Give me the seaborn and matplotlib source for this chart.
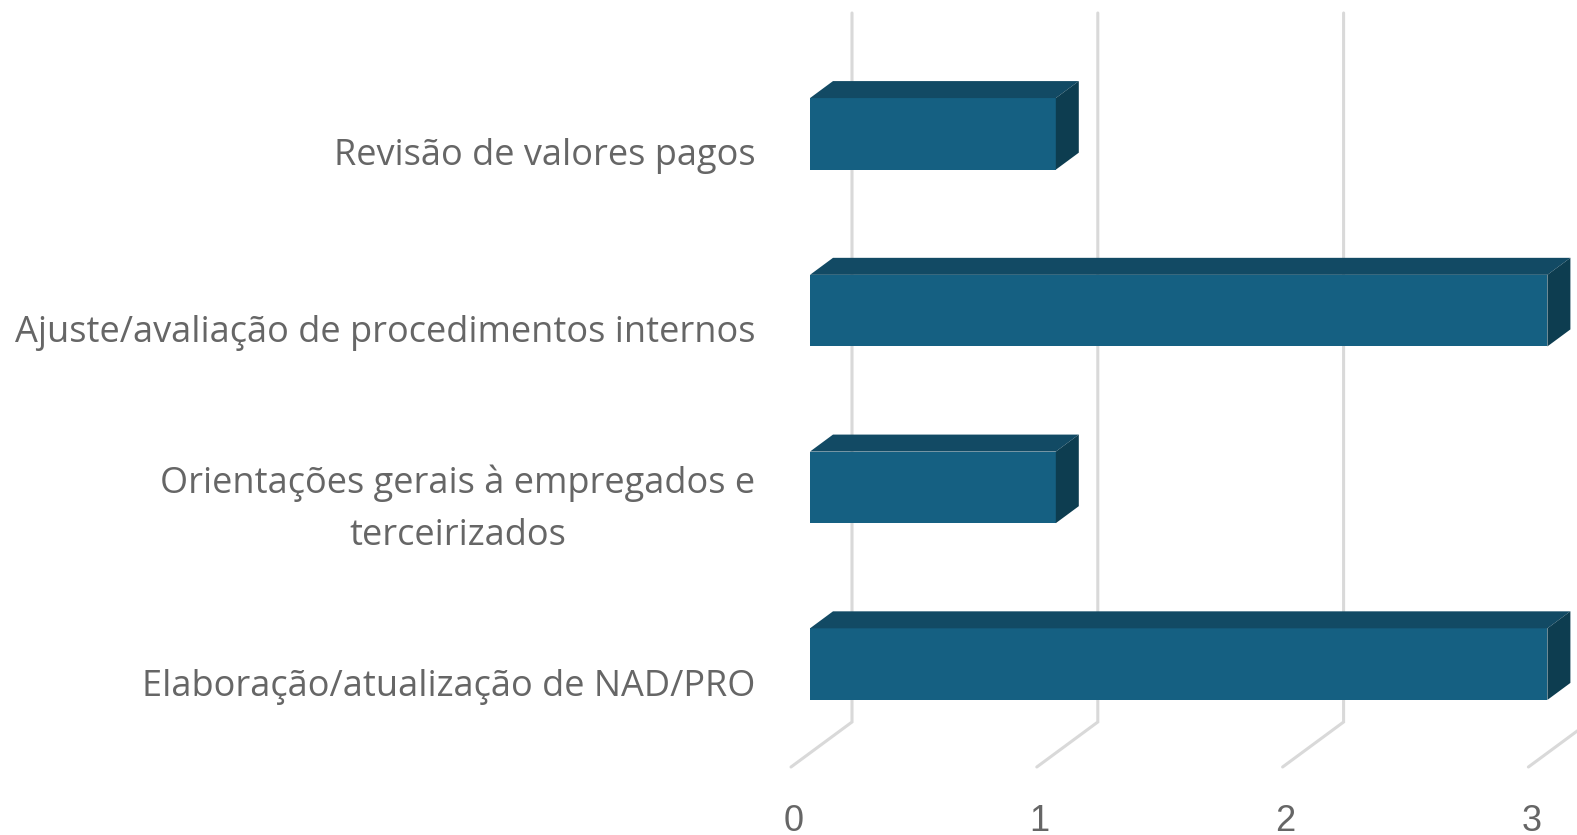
import matplotlib
matplotlib.use('Agg')
import matplotlib.pyplot as plt
import matplotlib.transforms as mtrans
from matplotlib.patches import Polygon
import pandas as pd
import seaborn as sns

categories = ['Revisão de valores pagos',
              'Ajuste/avaliação de procedimentos internos',
              'Orientações gerais à empregados e\nterceirizados',
              'Elaboração/atualização de NAD/PRO']
values = [1, 3, 1, 3]
x_ticks = [0, 1, 2, 3]

W, H = 1577, 835
FRONT = '#156082'
TOP = '#124A64'
SIDE = '#0D3D50'
GRID = '#D9D9D9'
TEXT = '#666666'

sns.set_theme(style='white')
plt.rcParams['font.family'] = ['Open Sans', 'DejaVu Sans']

fig = plt.figure(figsize=(W / 100, H / 100), dpi=100)
left, right, top, bottom = 810, W, 45.5, 752.5
ax = fig.add_axes([left / W, 1 - bottom / H, (right - left) / W, (bottom - top) / H])

df = pd.DataFrame({'categoria': categories, 'valor': values})
sns.barplot(data=df, x='valor', y='categoria', color=FRONT, saturation=1,
            width=0.405, orient='h', ax=ax, zorder=3, linewidth=0)
ax.set_xlim(0, (right - left) / 245.8)
ax.set_ylim(3.5, -0.5)
ax.set_xlabel('')
ax.set_ylabel('')
sns.despine(ax=ax, left=True, bottom=True, top=True, right=True)

# back wall and floor lines, offset in pixels from the tick position
for v in x_ticks:
    x0 = ax.transData.transform((v, 0))[0]
    ax.add_line(plt.Line2D([x0 - 19, x0 + 42, x0 + 42], [H - 767, H - 722, H - 13],
                           transform=mtrans.IdentityTransform(), color=GRID, lw=2.2,
                           zorder=1, clip_on=False, solid_joinstyle='miter'))

# fake 3d faces built from the real bars
dx, dy = 23, 17
for bar in list(ax.patches):
    (x0, y0), (x1, y1) = ax.transData.transform(bar.get_bbox().get_points())
    ylo, yhi = min(y0, y1), max(y0, y1)
    ax.add_patch(Polygon([(x0, yhi), (x0 + dx, yhi + dy), (x1 + dx, yhi + dy), (x1, yhi)],
                         transform=mtrans.IdentityTransform(), fc=TOP, ec='none',
                         zorder=3, clip_on=False))
    ax.add_patch(Polygon([(x1, yhi), (x1 + dx, yhi + dy), (x1 + dx, ylo + dy), (x1, ylo)],
                         transform=mtrans.IdentityTransform(), fc=SIDE, ec='none',
                         zorder=3, clip_on=False))

ax.set_xticks(x_ticks)
ax.set_xticklabels([str(v) for v in x_ticks], family='Liberation Sans')
ax.tick_params(axis='x', length=0, pad=37, labelsize=26, labelcolor=TEXT)
ax.tick_params(axis='y', length=0, pad=39.5, labelsize=26, labelcolor=TEXT)
for lab in ax.get_xticklabels():
    lab.set_transform(lab.get_transform() + mtrans.Affine2D().translate(-16, 0))
for lab in ax.get_yticklabels():
    shift = -9 if '\n' in lab.get_text() else -18
    lab.set_transform(lab.get_transform() + mtrans.Affine2D().translate(0, shift))
    lab.set_multialignment('center')
    lab.set_linespacing(1.62)

fig.savefig('out.png', dpi=100, facecolor='white')
